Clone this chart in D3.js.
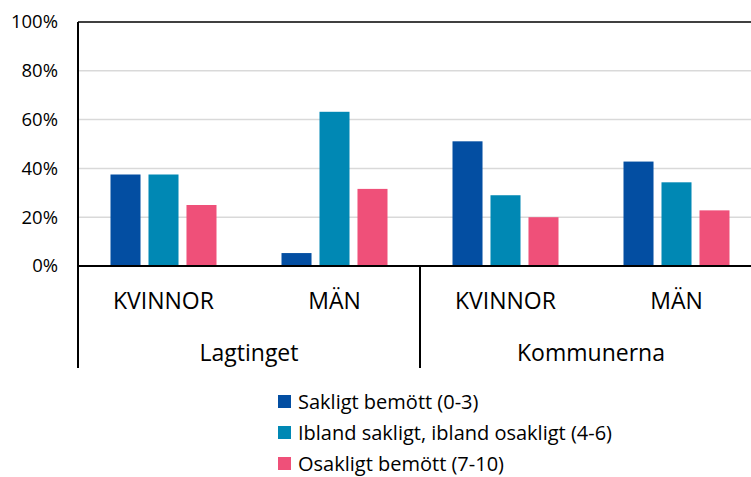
<!DOCTYPE html>
<html>
<head>
<meta charset="utf-8">
<script src="https://cdn.jsdelivr.net/npm/d3@7"></script>
<style>
  body { margin: 0; background: #fff; }
  text { font-family: "Open Sans", sans-serif; fill: #000; }
</style>
</head>
<body>
<div class="chart"></div>
<script>
// data
var groups = ["Lagtinget", "Kommunerna"];
var genders = ["KVINNOR", "MÄN"];
var seriesNames = ["Sakligt bemött (0-3)", "Ibland sakligt, ibland osakligt (4-6)", "Osakligt bemött (7-10)"];
var seriesColors = ["#034ea2", "#0088b4", "#ef5079"];
// values per category: Lagtinget KVINNOR, Lagtinget MÄN, Kommunerna KVINNOR, Kommunerna MÄN
var sakligt = [0.375, 0.053, 0.511, 0.428];
var ibland = [0.375, 0.632, 0.290, 0.343];
var osakligt = [0.25, 0.316, 0.20, 0.228];
var yTicks = [0, 0.2, 0.4, 0.6, 0.8, 1.0];

var W = 751, H = 477;
var margin = { top: 22, left: 78 },
    plotRight = 762,
    baseY = 266;

var svg = d3.select(".chart")
    .append("svg")
    .attr("width", W)
    .attr("height", H);

var categories = [];
groups.forEach(function (g) {
    genders.forEach(function (s) { categories.push(g + "|" + s); });
});
var values = [sakligt, ibland, osakligt];

var x = d3.scaleBand()
    .domain(categories)
    .range([margin.left, plotRight])
    .padding(0);

// bars inside one category: ~30px wide, 8px apart
var clusterW = 106;
var xInner = d3.scaleBand()
    .domain(d3.range(seriesNames.length))
    .range([0, clusterW])
    .paddingInner(0.21)
    .paddingOuter(0);

var y = d3.scaleLinear()
    .domain([0, 1])
    .range([baseY, margin.top]);

// gridlines
svg.append("g")
    .selectAll("line")
    .data(yTicks.filter(function (d) { return d > 0 && d < 1; }))
    .enter()
    .append("line")
    .attr("x1", margin.left)
    .attr("x2", plotRight)
    .attr("y1", function (d) { return y(d); })
    .attr("y2", function (d) { return y(d); })
    .attr("stroke", "#d9d9d9")
    .attr("stroke-width", 1.5);

// top border
svg.append("line")
    .attr("x1", margin.left).attr("x2", plotRight)
    .attr("y1", y(1)).attr("y2", y(1))
    .attr("stroke", "#000").attr("stroke-width", 1.5);

// y axis labels
var yAxis = d3.axisLeft(y)
    .tickValues(yTicks)
    .tickFormat(d3.format(".0%"))
    .tickSize(0)
    .tickPadding(20);
var yg = svg.append("g")
    .attr("transform", "translate(" + margin.left + ",0)")
    .call(yAxis);
yg.select(".domain").remove();
yg.selectAll("text")
    .style("font-size", "18.5px")
    .style("font-family", "'Open Sans', sans-serif")
    .attr("fill", "#000");

// bars
var bars = svg.append("g");
values.forEach(function (vals, si) {
    bars.selectAll(".s" + si)
        .data(vals)
        .enter()
        .append("rect")
        .attr("class", "s" + si)
        .attr("x", function (d, i) {
            return x(categories[i]) + (x.bandwidth() - clusterW) / 2 + xInner(si);
        })
        .attr("y", function (d) { return y(d); })
        .attr("width", xInner.bandwidth())
        .attr("height", function (d) { return baseY - y(d); })
        .style("fill", seriesColors[si]);
});

// axes lines
svg.append("line")
    .attr("x1", margin.left).attr("x2", plotRight)
    .attr("y1", baseY).attr("y2", baseY)
    .attr("stroke", "#000").attr("stroke-width", 2);
svg.append("line")
    .attr("x1", margin.left).attr("x2", margin.left)
    .attr("y1", margin.top).attr("y2", 368)
    .attr("stroke", "#000").attr("stroke-width", 2);
var groupW = x.bandwidth() * genders.length;
svg.append("line")
    .attr("x1", margin.left + groupW).attr("x2", margin.left + groupW)
    .attr("y1", baseY).attr("y2", 368)
    .attr("stroke", "#000").attr("stroke-width", 2);

// category labels
svg.append("g")
    .selectAll("text")
    .data(categories)
    .enter()
    .append("text")
    .attr("x", function (d) { return x(d) + x.bandwidth() / 2; })
    .attr("y", 309)
    .attr("text-anchor", "middle")
    .style("font-size", "23px")
    .text(function (d) { return d.split("|")[1]; });

svg.append("g")
    .selectAll("text")
    .data(groups)
    .enter()
    .append("text")
    .attr("x", function (d, i) { return margin.left + groupW * i + groupW / 2; })
    .attr("y", 361)
    .attr("text-anchor", "middle")
    .style("font-size", "23px")
    .text(function (d) { return d; });

// legend
var legend = svg.append("g")
    .selectAll("g")
    .data(seriesNames)
    .enter()
    .append("g")
    .attr("transform", function (d, i) { return "translate(278," + (395 + i * 31) + ")"; });
legend.append("rect")
    .attr("width", 13)
    .attr("height", 13)
    .style("fill", function (d, i) { return seriesColors[i]; });
legend.append("text")
    .attr("x", 20)
    .attr("y", 13.5)
    .style("font-size", "20px")
    .text(function (d) { return d; });
</script>
</body>
</html>
